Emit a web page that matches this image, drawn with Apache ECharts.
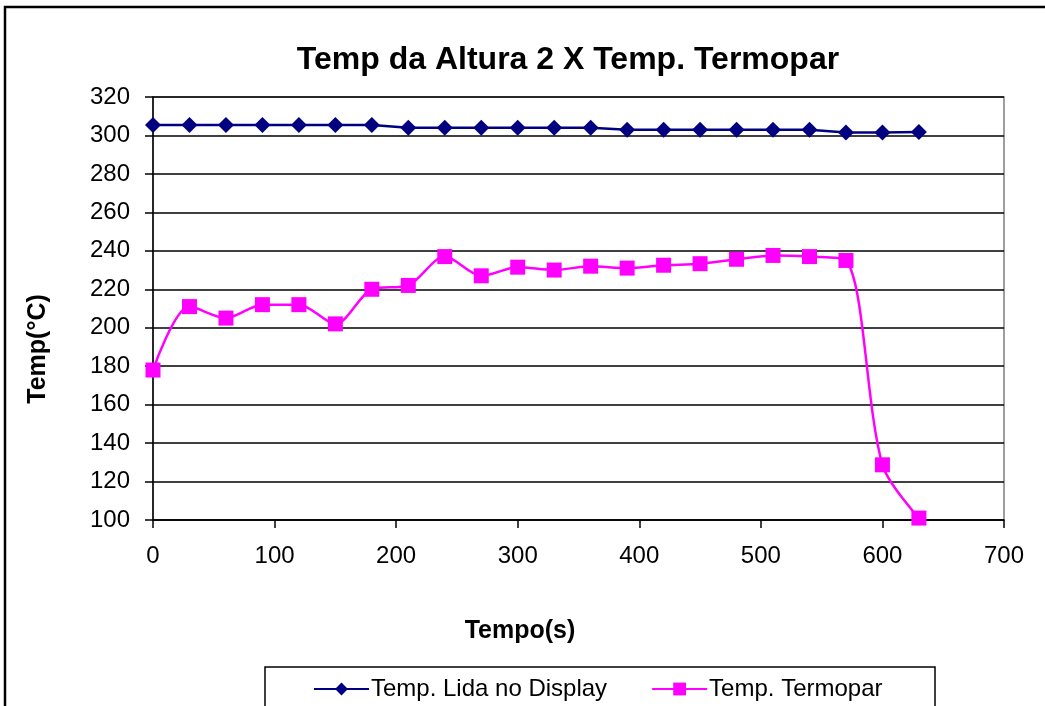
<!DOCTYPE html>
<html>
<head>
<meta charset="utf-8">
<script src="https://cdn.jsdelivr.net/npm/echarts@6/dist/echarts.min.js"></script>
<style>
html,body{margin:0;padding:0;background:#fff;}
#chart{width:1045px;height:706px;}
</style>
</head>
<body>
<div id="chart"></div>
<script>
const titleText = 'Temp da Altura 2 X Temp. Termopar';
const xName = 'Tempo(s)';
const yName = 'Temp(°C)';
const seriesNames = ['Temp. Lida no Display', 'Temp. Termopar'];
const tempo = [0, 30, 60, 90, 120, 150, 180, 210, 240, 270, 300, 330, 360, 390, 420, 450, 480, 510, 540, 570, 600, 630];
const display = [305.5, 305.5, 305.5, 305.5, 305.5, 305.5, 305.5, 304, 304, 304, 304, 304, 304, 303, 303, 303, 303, 303, 303, 301.5, 301.5, 301.8];
const termopar = [178, 211, 205, 212, 212, 202, 220, 222, 237, 227, 231.5, 230, 232, 231, 232.5, 233.3, 235.6, 237.6, 237, 235, 128.7, 101];

const font = 'Arial, "Liberation Sans", sans-serif';
const chart = echarts.init(document.getElementById('chart'));
chart.setOption({
  animation: false,
  backgroundColor: '#fff',
  textStyle: { fontFamily: font },
  title: {
    text: titleText,
    left: 563, top: 39, textAlign: 'center',
    textStyle: { fontFamily: font, fontSize: 32, fontWeight: 'bold', color: '#000' }
  },
  grid: {
    left: 153, right: 41, top: 97, bottom: 186,
    show: true, borderColor: '#808080', borderWidth: 1.5, backgroundColor: '#fff'
  },
  xAxis: {
    type: 'value', min: 0, max: 700, interval: 100,
    axisLine: { lineStyle: { color: '#000', width: 1.5 } },
    axisTick: { show: true, length: 8, lineStyle: { color: '#000', width: 1.5 } },
    axisLabel: { fontSize: 24, color: '#000', margin: 24, fontFamily: font },
    splitLine: { show: false }
  },
  yAxis: {
    type: 'value', min: 100, max: 320, interval: 20,
    axisLine: { show: true, lineStyle: { color: '#000', width: 1.5 } },
    axisTick: { show: true, length: 8, lineStyle: { color: '#000', width: 1.5 } },
    axisLabel: { fontSize: 24, color: '#000', margin: 23, fontFamily: font },
    splitLine: { show: true, lineStyle: { color: '#000', width: 1.5 } }
  },
  legend: {
    left: 308, top: 672,
    itemWidth: 55, itemHeight: 16, itemGap: 44,
    textStyle: { fontSize: 24, color: '#000', fontFamily: font, padding: [0, 0, 0, -3] },
    data: seriesNames
  },
  graphic: [
    { type: 'rect', shape: { x: 5, y: 7, width: 1200, height: 900 }, style: { fill: 'none', stroke: '#000', lineWidth: 2.5 }, z: 100 },
    { type: 'rect', shape: { x: 265, y: 667, width: 670, height: 100 }, style: { fill: 'none', stroke: '#000', lineWidth: 1.5 }, z: 100 },
    { type: 'text', x: 520, y: 631, style: { text: xName, x: 0, y: 0, textAlign: 'center', textVerticalAlign: 'middle', font: 'bold 25px ' + font, fill: '#000' }, z: 100 },
    { type: 'text', rotation: Math.PI / 2, x: 38, y: 349, style: { text: yName, x: 0, y: 0, textAlign: 'center', textVerticalAlign: 'middle', font: 'bold 25px ' + font, fill: '#000' }, z: 100 }
  ],
  series: [
    {
      name: seriesNames[0], type: 'line',
      data: tempo.map((t, i) => [t, display[i]]),
      symbol: 'diamond', symbolSize: 16,
      lineStyle: { color: '#000080', width: 2.5 },
      itemStyle: { color: '#000080' }
    },
    {
      name: seriesNames[1], type: 'line', smooth: 0.3,
      data: tempo.map((t, i) => [t, termopar[i]]),
      symbol: 'rect', symbolSize: 15,
      lineStyle: { color: '#FF00FF', width: 2.5 },
      itemStyle: { color: '#FF00FF' }
    }
  ]
});
</script>
</body>
</html>
